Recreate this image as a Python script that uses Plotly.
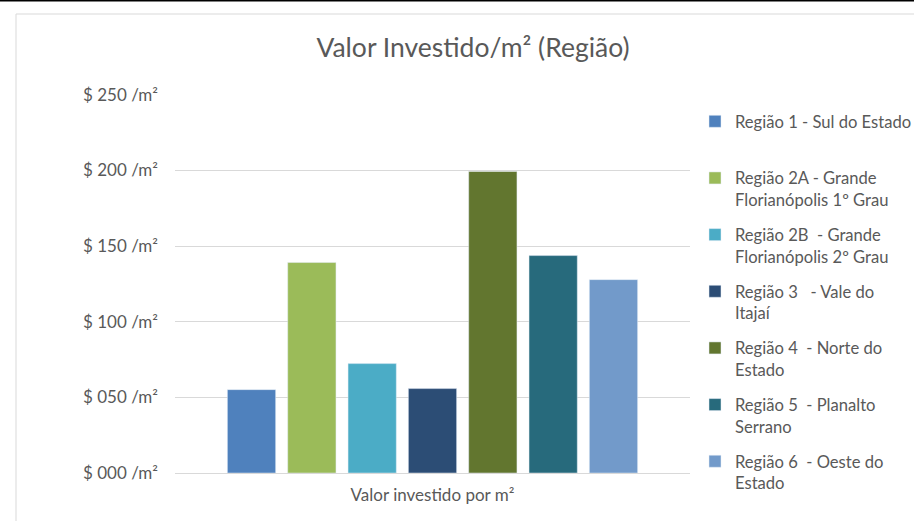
import plotly.graph_objects as go

categories = ["Valor investido por m²"]
regions = [
    "Região 1 - Sul do Estado",
    "Região 2A - Grande<br>Florianópolis 1º Grau",
    "Região 2B  - Grande<br>Florianópolis 2º Grau",
    "Região 3   - Vale do<br>Itajaí",
    "Região 4  - Norte do<br>Estado",
    "Região 5  - Planalto<br>Serrano",
    "Região 6  - Oeste do<br>Estado",
]
values = [55.1, 139.1, 72.3, 55.8, 199.3, 143.7, 127.8]
colors = ["#4F81BD", "#9BBB59", "#4BACC6", "#2C4D75", "#62762F", "#276A7C", "#729ACA"]
tick_vals = [0, 50, 100, 150, 200, 250]
tick_text = ["$ 000 /m²", "$ 050 /m²", "$ 100 /m²", "$ 150 /m²", "$ 200 /m²", "$ 250 /m²"]

FONT = "Lato"
GRAY = "#595959"

fig = go.Figure()
for i, (name, v, c) in enumerate(zip(regions, values, colors)):
    label = name if "<br>" in name else name + "<br> "
    fig.add_trace(go.Bar(x=categories, y=[v], name=label, marker_color=c,
                         legendgroup=str(i)))

# the canvas is a little wider than the 914 px window; the overflow is hidden
W, H = 945, 521
L, R, T, B = 175, 690, 94, 473
YMAX = 250.5

def px2x(p):
    return (p - L) / (R - L)

def py2y(p):
    return (B - p) / (B - T)

fig.update_layout(
    width=W, height=H,
    margin=dict(l=L, r=W - R, t=T, b=H - B),
    paper_bgcolor="white", plot_bgcolor="white",
    title=dict(text="Valor Investido/m² (Região)", x=473 / W, xanchor="center",
               y=1 - 48 / H, yanchor="middle",
               font=dict(family=FONT, size=26.5, color=GRAY)),
    barmode="group", bargap=0.18, bargroupgap=0.2,
    font=dict(family=FONT, size=17, color=GRAY),
    legend=dict(x=px2x(695), xanchor="left", y=py2y(104), yanchor="top",
                font=dict(family=FONT, size=16.6, color=GRAY),
                valign="top", tracegroupgap=10.5, itemwidth=30,
                maxheight=500,
                bgcolor="rgba(0,0,0,0)"),
    xaxis=dict(showgrid=False, showline=False, ticks="", ticklabelstandoff=10,
               tickfont=dict(family=FONT, size=17, color=GRAY)),
    yaxis=dict(range=[0, YMAX], tickvals=tick_vals, ticktext=tick_text,
               showgrid=True, gridcolor="#D9D9D9", gridwidth=1.3,
               zeroline=True, zerolinecolor="#D9D9D9", zerolinewidth=1.3,
               showline=False, ticks="", ticklabelstandoff=16,
               tickfont=dict(family=FONT, size=17, color=GRAY)),
    shapes=[
        dict(type="rect", xref="paper", yref="paper",
             x0=px2x(16), x1=px2x(980), y0=py2y(540), y1=py2y(14),
             line=dict(color="#D9D9D9", width=1), layer="below"),
        dict(type="line", xref="paper", yref="paper",
             x0=px2x(-5), x1=px2x(980), y0=py2y(0.5), y1=py2y(0.5),
             line=dict(color="black", width=2)),
    ],
)

fig.write_html("out.html", config={"displayModeBar": False},
               post_script="document.body.style.margin='0';"
                           "document.body.style.overflow='hidden';")
